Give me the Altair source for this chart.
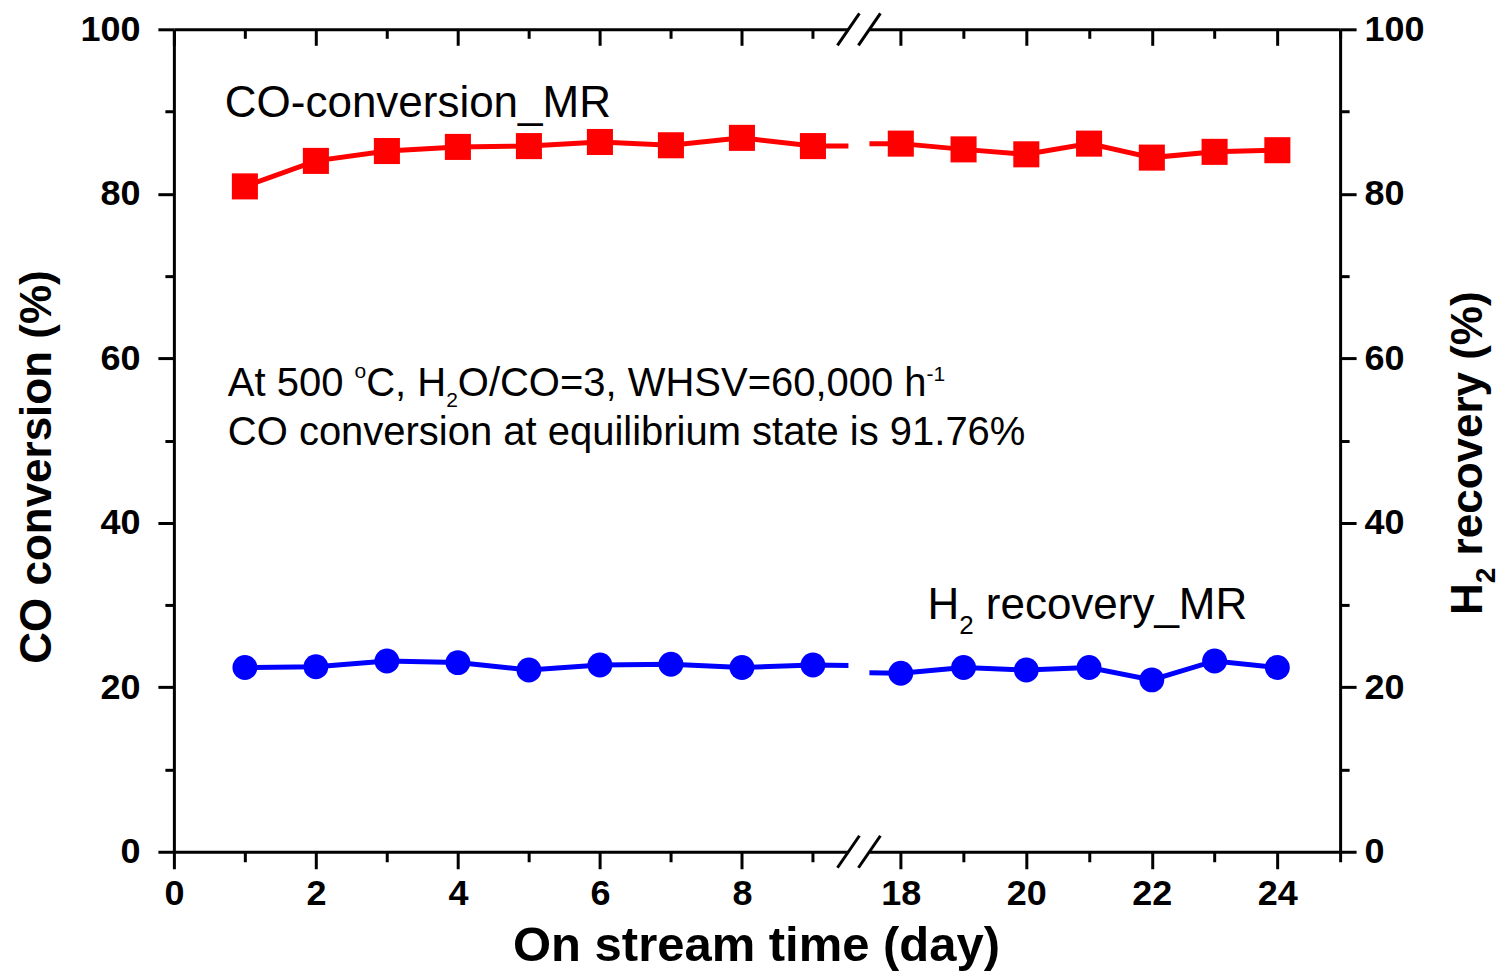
import altair as alt
import pandas as pd

# ---- data -------------------------------------------------------------
days = [1, 2, 3, 4, 5, 6, 7, 8, 9, 18, 19, 20, 21, 22, 23, 24]
co_conversion = [80.9, 84.0, 85.2, 85.7, 85.8, 86.3, 85.9, 86.8, 85.8,
                 86.1, 85.4, 84.8, 86.1, 84.4, 85.1, 85.3]
h2_recovery = [22.4, 22.5, 23.2, 23.0, 22.1, 22.7, 22.8, 22.4, 22.7,
               21.7, 22.4, 22.1, 22.4, 20.9, 23.2, 22.4]

series_names = ["CO conversion", "H2 recovery"]

left_domain = [0, 9.5]
right_domain = [17.5, 25]
left_major = [0, 2, 4, 6, 8]
left_minor = [1, 3, 5, 7, 9]
right_major = [18, 20, 22, 24]
right_minor = [19, 21, 23, 25]
y_major = [0, 20, 40, 60, 80, 100]
y_minor = [10, 30, 50, 70, 90]

# ---- styling ----------------------------------------------------------
RED = "#FF0000"
BLUE = "#0000FF"
FONT = "Liberation Sans"
H = 823          # plot height
WL = 675         # width of the segment before the axis break
WR = 471         # width of the segment after the axis break
GAP = 21         # break gap between the two segments

rows = []
for d, c, h in zip(days, co_conversion, h2_recovery):
    rows.append({"day": d, "series": series_names[0], "value": c})
    rows.append({"day": d, "series": series_names[1], "value": h})
data = pd.DataFrame(rows)

one_row = alt.Data(values=[{"k": 0}])

# Arial / Liberation Sans advance widths (per 1000 em) for placing rich text
ADV = {" ": 278, "A": 667, "t": 278, "5": 556, "0": 556, "o": 556, "C": 722,
       ",": 278, "H": 722, "2": 556, "O": 778, "/": 278, "=": 584, "3": 556,
       "W": 944, "S": 667, "V": 667, "6": 556, "h": 556, "-": 333, "1": 556}
ADV_BOLD = {"H": 722, "2": 556, " ": 278}


def text_width(s, size, table=ADV):
    return sum(table[ch] for ch in s) * size / 1000.0


def label(text, x, y, size, weight="normal", angle=0, align="left",
          baseline="alphabetic"):
    return alt.Chart(one_row).mark_text(
        text=text, font=FONT, fontSize=size, fontWeight=weight, color="black",
        align=align, baseline=baseline, angle=angle,
    ).encode(x=alt.value(x), y=alt.value(y))


def slash(xc, yc):
    return alt.Chart(one_row).mark_rule(color="black", strokeWidth=3).encode(
        x=alt.value(xc - 11), x2=alt.value(xc + 11),
        y=alt.value(yc + 16), y2=alt.value(yc - 16))


def axis_style(**kw):
    base = dict(domainColor="black", tickColor="black", domainWidth=3,
                tickWidth=3, grid=False, title=None, labelFont=FONT,
                labelFontSize=36, labelFontWeight="bold", labelColor="black",
                labelFlush=False, labelOverlap=False)
    base.update(kw)
    return alt.Axis(**base)


def panel(domain, width, major, minor, side, extras):
    xs = alt.Scale(domain=domain, nice=False, zero=False)
    ys = alt.Scale(domain=[0, 100], nice=False, zero=False)
    base = alt.Chart(data)
    inside = alt.FieldRangePredicate(field="day", range=domain)

    def enc(chart, x_axis=None, y_axis=None):
        return chart.encode(
            x=alt.X("day:Q", scale=xs, axis=x_axis),
            y=alt.Y("value:Q", scale=ys, axis=y_axis),
        )

    layers = []
    # axes: bottom (outward ticks), top (inward ticks), and the y axis
    layers.append(enc(base.mark_point(opacity=0, clip=True),
                      x_axis=axis_style(orient="bottom", values=major,
                                        tickSize=17, labelPadding=8)))
    layers.append(enc(base.mark_point(opacity=0, clip=True),
                      x_axis=axis_style(orient="bottom", values=minor,
                                        tickSize=10, labels=False,
                                        domain=False)))
    layers.append(enc(base.mark_point(opacity=0, clip=True),
                      x_axis=axis_style(orient="bottom", offset=-H,
                                        values=major, tickSize=16,
                                        labels=False)))
    layers.append(enc(base.mark_point(opacity=0, clip=True),
                      x_axis=axis_style(orient="bottom", offset=-H,
                                        values=minor, tickSize=9,
                                        labels=False, domain=False)))
    pad = 18 if side == "left" else 8
    layers.append(enc(base.mark_point(opacity=0, clip=True),
                      y_axis=axis_style(orient=side, values=y_major,
                                        tickSize=16, labelPadding=pad)))
    layers.append(enc(base.mark_point(opacity=0, clip=True),
                      y_axis=axis_style(orient=side, values=y_minor,
                                        tickSize=9, labels=False,
                                        domain=False)))

    # the two series
    for name, color, shape, size in [
        (series_names[0], RED, "square", 680),
        (series_names[1], BLUE, "circle", 620),
    ]:
        src = base.transform_filter(alt.datum.series == name)
        layers.append(enc(src.mark_line(color=color, strokeWidth=5,
                                        clip=True)))
        layers.append(enc(src.transform_filter(inside).mark_point(
            shape=shape, filled=True, size=size, color=color, opacity=1,
            strokeWidth=0)))

    layers.extend(extras)
    return alt.layer(*layers).resolve_axis(
        x="independent", y="independent"
    ).properties(width=width, height=H)


# ---- annotations in the left segment ----------------------------------
left_extras = []
# axis-break marks
left_extras += [slash(WL, 0), slash(WL, H)]
# series name
left_extras.append(label("CO-conversion_MR", 51, 88, 44))

# operating conditions, with super/subscripts
x0, y0, fs, fss = 54, 367, 40, 21
pieces = [("At 500 ", fs, 0), ("o", fss, -18), ("C, H", fs, 0),
          ("2", fss, 11), ("O/CO=3, WHSV=60,000 h", fs, 0), ("-1", fss, -15)]
cx = x0
for txt, size, dy in pieces:
    left_extras.append(label(txt, cx, y0 + dy, size))
    cx += text_width(txt, size)
left_extras.append(label("CO conversion at equilibrium state is 91.76%",
                         54, 416, 40))

# axis titles
left_extras.append(label("CO conversion (%)", -136, 438, 44, weight="bold",
                         angle=270, align="center", baseline="middle"))
left_extras.append(label("On stream time (day)", 583, 917, 49, weight="bold",
                         align="center", baseline="middle"))

# ---- annotations in the right segment ---------------------------------
right_extras = [slash(0, 0), slash(0, H)]
hx, hy, hs, hss = 58, 590, 44, 26
x_sub = hx + text_width("H", hs)
x_rest = x_sub + text_width("2", hss) + text_width(" ", hs)
right_extras.append(label("H", hx, hy, hs))
right_extras.append(label("2", x_sub, hy + 15, hss))
right_extras.append(label("recovery_MR", x_rest, hy, hs))

# right axis title, read bottom to top
tx, ty, ts, tss = 613, 586, 44, 28
ty2 = ty - text_width("H", ts, ADV_BOLD)
ty3 = ty2 - text_width("2", tss, ADV_BOLD) - text_width(" ", ts, ADV_BOLD)
right_extras.append(label("H", tx, ty, ts, weight="bold", angle=270))
right_extras.append(label("2", tx + 13, ty2, tss, weight="bold", angle=270))
right_extras.append(label("recovery (%)", tx, ty3, ts, weight="bold",
                          angle=270))

left = panel(left_domain, WL, left_major, left_minor, "left", left_extras)
right = panel(right_domain, WR, right_major, right_minor, "right",
              right_extras)

chart = alt.hconcat(left, right, spacing=GAP, bounds="flush").resolve_scale(
    x="independent", y="independent"
).properties(
    padding={"left": 16, "top": 11, "right": 4, "bottom": 0},
    background="white",
).configure_view(strokeOpacity=0)

chart.save("out.html", embed_options={"renderer": "svg", "actions": False})
